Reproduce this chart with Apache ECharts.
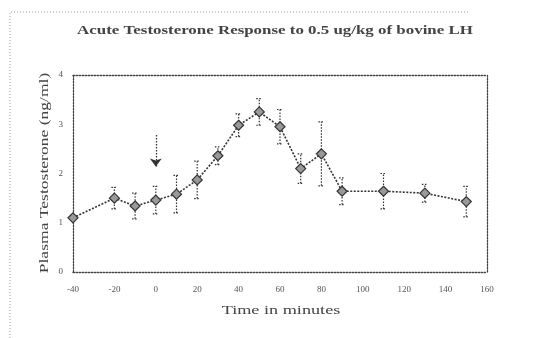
<!DOCTYPE html>
<html>
<head>
<meta charset="utf-8">
<script src="https://cdn.jsdelivr.net/npm/echarts@6/dist/echarts.min.js"></script>
<style>
html, body { margin: 0; padding: 0; background: #fff; }
#chart { width: 538px; height: 338px; }
</style>
</head>
<body>
<div id="chart"></div>
<script>
// time points (minutes) and mean testosterone (ng/ml)
var minutes = [-40, -20, -10, 0, 10, 20, 30, 40, 50, 60, 70, 80, 90, 110, 130, 150];
var testosterone = [1.10, 1.50, 1.34, 1.46, 1.58, 1.87, 2.36, 2.98, 3.25, 2.95, 2.10, 2.40, 1.64, 1.64, 1.60, 1.43];
var errHalf = [0.05, 0.22, 0.26, 0.28, 0.38, 0.38, 0.18, 0.23, 0.27, 0.35, 0.30, 0.65, 0.27, 0.36, 0.18, 0.31];
var xTicks = [-40, 160, 20];   // min, max, step
var yTicks = [0, 4, 1];
var arrowAt = [0, 2.78, 2.14];  // x, from y, to y (LH injection)

var serif = '"Liberation Serif", "DejaVu Serif", serif';
var ink = '#333';

var chart = echarts.init(document.getElementById('chart'));

var points = minutes.map(function (m, i) { return [m, testosterone[i]]; });
var bars = minutes.map(function (m, i) {
	return [m, testosterone[i] - errHalf[i], testosterone[i] + errHalf[i]];
});

function renderErr(params, api) {
	var lo = api.coord([api.value(0), api.value(1)]);
	var hi = api.coord([api.value(0), api.value(2)]);
	var cap = 3;
	var st = { stroke: ink, lineWidth: 1.2, lineDash: [1.5, 1.5] };
	return {
		type: 'group',
		children: [
			{ type: 'line', shape: { x1: lo[0], y1: lo[1], x2: hi[0], y2: hi[1] }, style: st },
			{ type: 'line', shape: { x1: lo[0] - cap, y1: lo[1], x2: lo[0] + cap, y2: lo[1] }, style: st },
			{ type: 'line', shape: { x1: hi[0] - cap, y1: hi[1], x2: hi[0] + cap, y2: hi[1] }, style: st }
		]
	};
}

var frameLine = { show: true, onZero: false, lineStyle: { color: '#444', width: 1.3, type: [1.5, 1.5] } };
var noLbl = { show: false };

var option = {
	backgroundColor: '#fff',
	animation: false,
	graphic: [
		// scanned page frame
		{ type: 'polyline', silent: true,
		  shape: { points: [[10, 338], [10, 12], [470, 12]] },
		  style: { stroke: '#999', lineWidth: 1, lineDash: [1, 2], fill: null } },
		// title and axis names, stretched wide like the original typeface
		{ type: 'text', x: 275, y: 31, scaleX: 1.3, silent: true,
		  style: { text: 'Acute Testosterone Response to 0.5 ug/kg of bovine LH',
			font: 'bold 13px ' + serif, fill: '#444', align: 'center', verticalAlign: 'middle' } },
		{ type: 'text', x: 281, y: 311, scaleX: 1.4, silent: true,
		  style: { text: 'Time in minutes',
			font: '13px ' + serif, fill: '#444', align: 'center', verticalAlign: 'middle' } },
		{ type: 'text', x: 45, y: 173, scaleX: 1.35, rotation: Math.PI / 2, silent: true,
		  style: { text: 'Plasma Testosterone (ng/ml)',
			font: '13px ' + serif, fill: '#444', align: 'center', verticalAlign: 'middle' } }
	],
	grid: { left: 73, right: 51, top: 75, bottom: 66 },
	xAxis: [{
		type: 'value', min: xTicks[0], max: xTicks[1], interval: xTicks[2],
		axisLine: frameLine, axisTick: { show: false }, splitLine: { show: false },
		axisLabel: { fontFamily: serif, fontSize: 9, color: '#555', margin: 13 }
	}, {
		type: 'value', position: 'top', min: xTicks[0], max: xTicks[1], interval: xTicks[2],
		axisLine: frameLine, axisTick: { show: false }, splitLine: { show: false }, axisLabel: noLbl
	}],
	yAxis: [{
		type: 'value', min: yTicks[0], max: yTicks[1], interval: yTicks[2],
		axisLine: frameLine, axisTick: { show: false }, splitLine: { show: false },
		axisLabel: { fontFamily: serif, fontSize: 9, color: '#555', margin: 10 }
	}, {
		type: 'value', position: 'right', min: yTicks[0], max: yTicks[1], interval: yTicks[2],
		axisLine: frameLine, axisTick: { show: false }, splitLine: { show: false }, axisLabel: noLbl
	}],
	series: [
		{
			type: 'custom', renderItem: renderErr, data: bars, z: 2,
			encode: { x: 0, y: [1, 2] }
		},
		{
			type: 'line', data: points, z: 3,
			symbol: 'diamond', symbolSize: 10,
			itemStyle: { color: '#999', borderColor: '#333', borderWidth: 1.2 },
			lineStyle: { color: ink, width: 1.6, type: [2, 1.5] },
			markLine: {
				silent: true, symbol: ['none', 'arrow'], symbolSize: [9, 8],
				label: { show: false },
				lineStyle: { color: ink, width: 1.3, type: [1.5, 1.5] },
				data: [[{ coord: [arrowAt[0], arrowAt[1]] }, { coord: [arrowAt[0], arrowAt[2]] }]]
			}
		}
	]
};
chart.setOption(option);
</script>
</body>
</html>
